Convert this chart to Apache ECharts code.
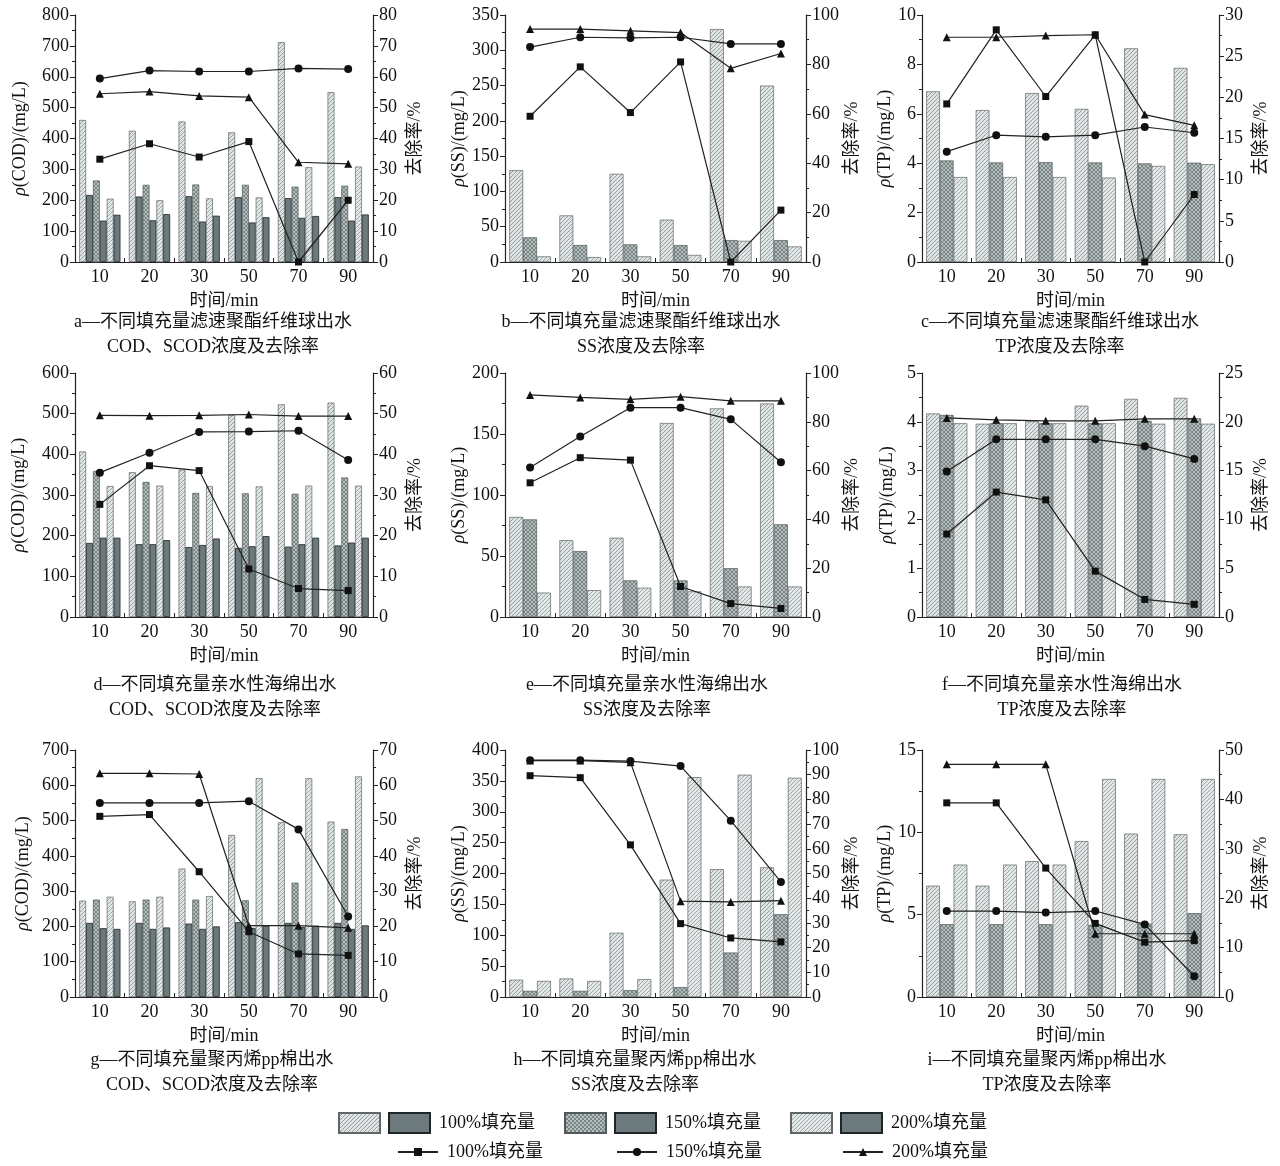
<!DOCTYPE html>
<html><head><meta charset="utf-8">
<script src="https://cdn.jsdelivr.net/npm/echarts@6/dist/echarts.min.js"></script>
<style>html,body{margin:0;padding:0;background:#fff}#c{width:1280px;height:1166px}</style>
</head><body><div id="c"></div>
<script>
// ---------------- DATA ----------------
const times = ['10','20','30','50','70','90'];
// a
const a_COD100 = [460,425,455,420,712,550];
const a_SCOD100 = [217,212,213,210,207,210];
const a_COD150 = [264,250,251,250,244,247];
const a_SCOD150 = [134,135,131,128,143,134];
const a_COD200 = [205,200,206,209,307,309];
const a_SCOD200 = [153,155,150,145,149,154];
const a_rate100 = [33.3,38.3,34.0,39.0,0,20.0];
const a_rate150 = [59.4,62.0,61.7,61.7,62.7,62.5];
const a_rate200 = [54.5,55.2,53.8,53.4,32.3,31.8];
// b
const b_SS100 = [130,66,125,60,330,250];
const b_SS150 = [35,24,25,24,31,31];
const b_SS200 = [8,7,8,10,30,22];
const b_rate100 = [59,79,60.5,81,0,21];
const b_rate150 = [87,91,90.7,91,88.3,88.3];
const b_rate200 = [94.3,94.3,93.6,92.9,78.4,84.4];
// c
const c_TP100 = [6.91,6.15,6.84,6.2,8.65,7.86];
const c_TP150 = [4.11,4.03,4.04,4.03,3.99,4.02];
const c_TP200 = [3.44,3.44,3.44,3.42,3.89,3.96];
const c_rate100 = [19.2,28.2,20.1,27.6,0,8.2];
const c_rate150 = [13.4,15.4,15.2,15.4,16.4,15.7];
const c_rate200 = [27.3,27.3,27.5,27.6,17.9,16.6];
// d
const d_COD100 = [407,356,362,497,523,527];
const d_SCOD100 = [182,179,172,170,173,176];
const d_COD150 = [359,332,305,304,303,343];
const d_SCOD150 = [195,179,177,174,179,183];
const d_COD200 = [322,323,322,321,323,323];
const d_SCOD200 = [195,189,193,199,195,195];
const d_rate100 = [27.7,37.2,36.0,11.8,7.0,6.5];
const d_rate150 = [35.5,40.4,45.5,45.6,45.8,38.6];
const d_rate200 = [49.6,49.5,49.6,49.8,49.4,49.4];
// e
const e_SS100 = [82,63,65,159,171,175];
const e_SS150 = [80,54,30,30,40,76];
const e_SS200 = [20,22,24,21,25,25];
const e_rate100 = [55,65.3,64.3,12.5,5.5,3.5];
const e_rate150 = [61.3,74,85.8,85.8,81,63.4];
const e_rate200 = [91,90,89.2,90.3,88.6,88.6];
// f
const f_TP100 = [4.17,3.96,4.01,4.33,4.47,4.49];
const f_TP150 = [4.14,3.97,3.97,3.97,4.02,4.07];
const f_TP200 = [3.97,3.97,3.97,3.97,3.96,3.96];
const f_rate100 = [8.5,12.8,12.0,4.7,1.8,1.3];
const f_rate150 = [14.9,18.2,18.2,18.2,17.5,16.2];
const f_rate200 = [20.4,20.2,20.1,20.1,20.3,20.3];
// g
const g_COD100 = [273,271,364,459,495,497];
const g_SCOD100 = [210,210,208,212,210,210];
const g_COD150 = [276,276,276,274,324,476];
const g_SCOD150 = [195,193,193,196,198,193];
const g_COD200 = [284,284,286,620,620,625];
const g_SCOD200 = [193,197,200,202,202,203];
const g_rate100 = [51.2,51.7,35.5,18.5,12.2,11.8];
const g_rate150 = [55.0,55.0,55.0,55.5,47.5,22.8];
const g_rate200 = [63.4,63.4,63.2,20.2,20.2,19.6];
// h
const h_SS100 = [28,30,104,190,207,210];
const h_SS150 = [10,10,11,16,72,134];
const h_SS200 = [26,26,29,356,360,355];
const h_rate100 = [89.6,88.8,61.6,29.7,23.9,22.3];
const h_rate150 = [95.9,95.9,95.5,93.5,71.4,46.6];
const h_rate200 = [95.7,95.7,95.0,38.8,38.5,39.0];
// i
const i_TP100 = [6.76,6.76,8.25,9.47,9.92,9.88];
const i_TP150 = [4.42,4.42,4.42,4.38,4.46,5.09];
const i_TP200 = [8.04,8.04,8.04,13.24,13.24,13.24];
const i_rate100 = [39.3,39.3,26.1,14.9,11.1,11.4];
const i_rate150 = [17.4,17.4,17.1,17.4,14.7,4.2];
const i_rate200 = [47.1,47.1,47.1,12.8,12.8,12.8];

// axis ranges (tick labels)
const leftMax  = [800,350,10, 600,200,5, 700,400,15];
const leftStep = [100,50,2,   100,50,1,  100,50,5];
const rightMax = [80,100,30,  60,100,25, 70,100,50];
const rightStep= [10,20,5,    10,20,5,   10,10,10];
const leftNames = ['COD','SS','TP','COD','SS','TP','COD','SS','TP'];
const rightName = '去除率/%';
const xName = '时间/min';
const capLine1 = ['a—不同填充量滤速聚酯纤维球出水','b—不同填充量滤速聚酯纤维球出水','c—不同填充量滤速聚酯纤维球出水',
  'd—不同填充量亲水性海绵出水','e—不同填充量亲水性海绵出水','f—不同填充量亲水性海绵出水',
  'g—不同填充量聚丙烯pp棉出水','h—不同填充量聚丙烯pp棉出水','i—不同填充量聚丙烯pp棉出水'];
const capLine2 = ['COD、SCOD浓度及去除率','SS浓度及去除率','TP浓度及去除率',
  'COD、SCOD浓度及去除率','SS浓度及去除率','TP浓度及去除率',
  'COD、SCOD浓度及去除率','SS浓度及去除率','TP浓度及去除率'];
const legendLabels = ['100%填充量','150%填充量','200%填充量'];

const panels = [
  {bars:[a_COD100,a_SCOD100,a_COD150,a_SCOD150,a_COD200,a_SCOD200], rates:[a_rate100,a_rate150,a_rate200]},
  {bars:[b_SS100,null,b_SS150,null,b_SS200,null], rates:[b_rate100,b_rate150,b_rate200]},
  {bars:[c_TP100,null,c_TP150,null,c_TP200,null], rates:[c_rate100,c_rate150,c_rate200]},
  {bars:[d_COD100,d_SCOD100,d_COD150,d_SCOD150,d_COD200,d_SCOD200], rates:[d_rate100,d_rate150,d_rate200]},
  {bars:[e_SS100,null,e_SS150,null,e_SS200,null], rates:[e_rate100,e_rate150,e_rate200]},
  {bars:[f_TP100,null,f_TP150,null,f_TP200,null], rates:[f_rate100,f_rate150,f_rate200]},
  {bars:[g_COD100,g_SCOD100,g_COD150,g_SCOD150,g_COD200,g_SCOD200], rates:[g_rate100,g_rate150,g_rate200]},
  {bars:[h_SS100,null,h_SS150,null,h_SS200,null], rates:[h_rate100,h_rate150,h_rate200]},
  {bars:[i_TP100,null,i_TP150,null,i_TP200,null], rates:[i_rate100,i_rate150,i_rate200]}
];

// ---------------- LAYOUT / STYLE ----------------
const FONT = "'Liberation Serif','Noto Sans CJK SC',serif";
const colLeft = [75, 505, 922];
const colWidth = [298, 301, 297];
const rowTop = [15, 373, 750];
const rowHeight = [247, 244, 247];
const leftGap = [46,34,25, 47,33,26, 43,33,26];
const capX = [213,641,1060, 215,647,1062, 212,635,1047];
const capY = [322, 685, 1060];
const legBarLeft = [333, 559, 785];
const legLineLeft = [392, 611, 837];

function makePattern(bg, fg, size, cross) {
  const c = document.createElement('canvas');
  c.width = size; c.height = size;
  const ctx = c.getContext('2d');
  ctx.fillStyle = bg; ctx.fillRect(0,0,size,size);
  ctx.strokeStyle = fg; ctx.lineWidth = 1;
  ctx.beginPath();
  ctx.moveTo(-1, size+1); ctx.lineTo(size+1, -1);
  ctx.moveTo(-1, 1); ctx.lineTo(1, -1);
  ctx.moveTo(size-1, size+1); ctx.lineTo(size+1, size-1);
  if (cross) {
    ctx.moveTo(-1, -1); ctx.lineTo(size+1, size+1);
    ctx.moveTo(size-1, -1); ctx.lineTo(size+1, 1);
    ctx.moveTo(-1, size-1); ctx.lineTo(1, size+1);
  }
  ctx.stroke();
  return {image: c, repeat: 'repeat'};
}
const patLight = makePattern('#e0e4e4', '#96a0a0', 4, false);
const patMid = makePattern('#b5bdbd', '#7a8686', 4, true);
const patLight2 = makePattern('#e4e7e7', '#a0a9a9', 4, false);
const darkColor = '#6c7a7d';

const barNames = ['b100c','b100s','b150c','b150s','b200c','b200s'];
const barStyles = [
  {color: patLight, borderColor:'#5e6666', borderWidth:0.7},
  {color: darkColor, borderColor:'#1e2526', borderWidth:0.8},
  {color: patMid, borderColor:'#505a5a', borderWidth:0.7},
  {color: darkColor, borderColor:'#1e2526', borderWidth:0.8},
  {color: patLight2, borderColor:'#5e6666', borderWidth:0.7},
  {color: darkColor, borderColor:'#1e2526', borderWidth:0.8}
];
const lineNames = ['l100','l150','l200'];
const lineSymbols = [['rect',7],['circle',8],['triangle',8]];

const grids = [], xAxes = [], yAxes = [], series = [], graphics = [];
panels.forEach((p, k) => {
  const col = k % 3, row = Math.floor(k / 3);
  grids.push({left: colLeft[col], top: rowTop[row], width: colWidth[col], height: rowHeight[row]});
  xAxes.push({
    type:'category', gridIndex:k, data:times,
    axisLine:{lineStyle:{color:'#222', width:1.2}},
    axisTick:{show:true, inside:true, length:4, lineStyle:{color:'#222'}},
    axisLabel:{fontSize:18, color:'#111', fontFamily:FONT, margin:6},
    name:xName, nameLocation:'middle', nameGap:30,
    nameTextStyle:{fontSize:18, color:'#111', fontFamily:FONT}
  });
  yAxes.push({
    type:'value', gridIndex:k, position:'left', min:0, max:leftMax[k], interval:leftStep[k],
    axisLine:{show:true, lineStyle:{color:'#222', width:1.2}},
    axisTick:{show:true, length:5, lineStyle:{color:'#222'}},
    minorTick:{show:true, splitNumber:2, length:3, lineStyle:{color:'#222'}},
    splitLine:{show:false},
    axisLabel:{fontSize:18, color:'#111', fontFamily:FONT, margin:6},
    name:'{i|ρ}(' + leftNames[k] + ')/(mg/L)', nameLocation:'middle', nameGap:leftGap[k], nameRotate:90,
    nameTextStyle:{fontSize:18, color:'#111', fontFamily:FONT,
      rich:{i:{fontStyle:'italic', fontSize:18, fontFamily:FONT, color:'#111'}}}
  });
  yAxes.push({
    type:'value', gridIndex:k, position:'right', min:0, max:rightMax[k], interval:rightStep[k],
    axisLine:{show:true, lineStyle:{color:'#222', width:1.2}},
    axisTick:{show:true, length:5, lineStyle:{color:'#222'}},
    minorTick:{show:true, splitNumber:2, length:3, lineStyle:{color:'#222'}},
    splitLine:{show:false},
    axisLabel:{fontSize:18, color:'#111', fontFamily:FONT, margin:6},
    name:rightName, nameLocation:'middle', nameGap:33, nameRotate:90,
    nameTextStyle:{fontSize:18, color:'#111', fontFamily:FONT}
  });
  p.bars.forEach((vals, j) => {
    if (!vals) return;
    series.push({
      type:'bar', name:barNames[j], xAxisIndex:k, yAxisIndex:2*k, data:vals,
      barGap:'0%', barCategoryGap:'17%', itemStyle:barStyles[j], z:2, silent:true
    });
  });
  p.rates.forEach((vals, j) => {
    series.push({
      type:'line', name:lineNames[j], xAxisIndex:k, yAxisIndex:2*k+1, data:vals,
      symbol:lineSymbols[j][0], symbolSize:lineSymbols[j][1],
      itemStyle:{color:'#111'}, lineStyle:{color:'#222', width:1.2}, z:5, silent:true
    });
  });
  graphics.push({type:'text', x:capX[k], y:capY[row], style:{text:capLine1[k], textAlign:'center', textVerticalAlign:'middle', font:'18px ' + FONT, fill:'#111'}});
  graphics.push({type:'text', x:capX[k], y:capY[row] + 25, style:{text:capLine2[k], textAlign:'center', textVerticalAlign:'middle', font:'18px ' + FONT, fill:'#111'}});
});

const labelMap = {b100s:legendLabels[0], b150s:legendLabels[1], b200s:legendLabels[2],
                  l100:legendLabels[0], l150:legendLabels[1], l200:legendLabels[2]};

const legends = [];
for (let g = 0; g < 3; g++) {
  legends.push({
    data:[{name:barNames[2*g], icon:'rect'}, {name:barNames[2*g+1], icon:'rect'}],
    left:legBarLeft[g], top:1107, itemWidth:41, itemHeight:20, itemGap:7, selectedMode:false,
    formatter:n => n.endsWith('c') ? '' : labelMap[n],
    textStyle:{fontSize:18, color:'#111', fontFamily:FONT, padding:[0,0,0,4]}
  });
  legends.push({
    data:[lineNames[g]], left:legLineLeft[g], top:1138, itemWidth:40, itemHeight:10, selectedMode:false,
    formatter:n => labelMap[n],
    textStyle:{fontSize:18, color:'#111', fontFamily:FONT, padding:[0,0,0,4]}
  });
}

const chart = echarts.init(document.getElementById('c'), null, {renderer:'canvas'});
chart.setOption({
  backgroundColor:'#fff',
  animation:false,
  grid:grids, xAxis:xAxes, yAxis:yAxes, series:series,
  graphic:graphics,
  legend:legends
});
</script></body></html>
